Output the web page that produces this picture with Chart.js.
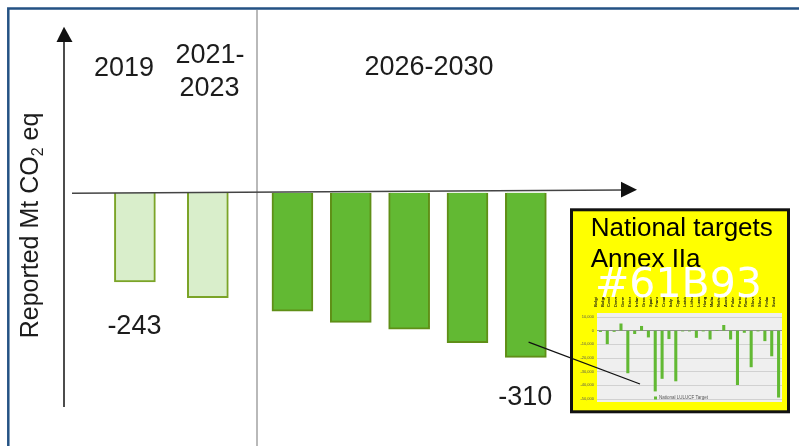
<!DOCTYPE html>
<html>
<head>
<meta charset="utf-8">
<script src="https://cdn.jsdelivr.net/npm/chart.js@4.4.1/dist/chart.umd.min.js"></script>
<style>
  html, body { margin: 0; padding: 0; background: #fff; }
  #wrap { position: relative; width: 799px; height: 446px; overflow: hidden; }
  #wrap canvas { position: absolute; }
  #mainChart { left: 0; top: 0; }
  #insetChart { left: 520px; top: 200px; }
</style>
</head>
<body>
<div id="wrap">
  <canvas id="mainChart" width="799" height="446"></canvas>
  <canvas id="insetChart" width="279" height="246"></canvas>
</div>
<script>
// EU LULUCF net removals, Mt CO2 eq
const periods = ['2019', '2021-2023', '2026', '2027', '2028', '2029', '2030'];
const periodSlots = [0, 1.25, 2.7, 3.7, 4.7, 5.7, 6.7];
const removals = [-243, -257, -269, -279, -285, -297, -310];
const reportedCount = 2;   // 2019 and 2021-2023 are reported, the rest are targets
const axisBase = -164;     // value where the horizontal axis is drawn

// national LULUCF targets for 2030, kt CO2 eq
const countries = ['Belgium', 'Bulgaria', 'Czechia', 'Denmark', 'Germany', 'Estonia', 'Ireland',
  'Greece', 'Spain', 'France', 'Croatia', 'Italy', 'Cyprus', 'Latvia', 'Lithuania', 'Luxembourg',
  'Hungary', 'Malta', 'Netherlands', 'Austria', 'Poland', 'Portugal', 'Romania', 'Slovenia',
  'Slovakia', 'Finland', 'Sweden'];
const nationalTargets = [-700, -9600, -600, 5000, -30900, -2200, 3200,
  -4700, -44200, -35000, -5900, -36800, -300, -300, -5000, -200,
  -6200, 0, 3900, -6200, -39500, -1300, -26500, -200,
  -7400, -18500, -48700];

const FONT = '"Liberation Sans", Arial, sans-serif';
const LIGHT_GREEN = '#d9eecb';
const GREEN = '#62b933';

// frame, axes with arrows and the text around the main bars
const mainDecor = {
  id: 'mainDecor',
  beforeDraw(chart) {
    const c = chart.ctx;
    c.save();
    c.fillStyle = '#fff';
    c.fillRect(0, 0, chart.width, chart.height);
    // blue slide frame
    c.strokeStyle = '#245284';
    c.lineWidth = 2.5;
    c.beginPath();
    c.moveTo(8.3, chart.height);
    c.lineTo(8.3, 8.5);
    c.lineTo(chart.width, 8.5);
    c.stroke();
    // divider between reported years and targets
    c.strokeStyle = '#8a8a8a';
    c.lineWidth = 1.2;
    c.beginPath();
    c.moveTo(257, 10);
    c.lineTo(257, chart.height);
    c.stroke();
    c.restore();
  },
  afterDatasetsDraw(chart) {
    const c = chart.ctx;
    c.save();
    // vertical axis
    c.strokeStyle = '#111';
    c.fillStyle = '#111';
    c.lineWidth = 1.5;
    c.beginPath();
    c.moveTo(64, 40);
    c.lineTo(64, 407);
    c.stroke();
    c.beginPath();
    c.moveTo(64, 26.7);
    c.lineTo(56.5, 42);
    c.lineTo(72.5, 42);
    c.closePath();
    c.fill();
    // horizontal axis
    c.strokeStyle = '#444';
    c.beginPath();
    c.moveTo(72, 193.3);
    c.lineTo(623, 190);
    c.stroke();
    c.fillStyle = '#111';
    c.beginPath();
    c.moveTo(637, 189.8);
    c.lineTo(621, 181.8);
    c.lineTo(621, 197.6);
    c.closePath();
    c.fill();
    c.restore();
  },
  afterDraw(chart) {
    const c = chart.ctx;
    c.save();
    c.fillStyle = '#1c1c1c';
    c.textAlign = 'center';
    c.textBaseline = 'alphabetic';
    c.font = '27px ' + FONT;
    c.fillText('2019', 124, 76);
    c.fillText('2021-', 210, 63.3);
    c.fillText('2023', 209.5, 96);
    c.fillText('2026-2030', 429, 75);

    // value labels under the first and last bar
    const meta = chart.getDatasetMeta(0);
    [[0, 52], [removals.length - 1, 47.5]].forEach(([i, dy]) => {
      const bar = meta.data[i];
      c.fillText(String(removals[i]), bar.x - 0.5, bar.y + dy);
    });

    // rotated axis title with subscript
    c.translate(37.5, 225.5);
    c.rotate(-Math.PI / 2);
    c.textAlign = 'left';
    const big = '25px ' + FONT, small = '16px ' + FONT;
    c.font = big;
    const w1 = c.measureText('Reported Mt CO').width;
    const w3 = c.measureText(' eq').width;
    c.font = small;
    const w2 = c.measureText('2').width;
    let x = -(w1 + w2 + w3) / 2;
    c.font = big;
    c.fillText('Reported Mt CO', x, 0);
    x += w1;
    c.font = small;
    c.fillText('2', x, 5);
    x += w2;
    c.font = big;
    c.fillText(' eq', x, 0);
    c.restore();
  }
};

new Chart(document.getElementById('mainChart').getContext('2d'), {
  type: 'bar',
  data: {
    datasets: [{
      label: 'LULUCF net removals',
      data: periods.map((p, i) => ({ x: periodSlots[i], y: removals[i] })),
      base: axisBase,
      barThickness: 41,
      backgroundColor: periods.map((p, i) => i < reportedCount ? LIGHT_GREEN : GREEN),
      borderColor: periods.map((p, i) => i < reportedCount ? '#7ba428' : '#5f8f17'),
      borderWidth: 2,
      borderSkipped: 'start'
    }]
  },
  options: {
    responsive: false,
    animation: false,
    layout: { padding: { left: 64, right: 162, top: 27, bottom: 39 } },
    plugins: { legend: { display: false }, tooltip: { enabled: false } },
    scales: {
      x: { type: 'linear', offset: false, min: -1.215, max: 8.605, display: false },
      y: { min: -354, max: -17, display: false }
    }
  },
  plugins: [mainDecor]
});

// yellow call-out box holding the per-country chart
const insetDecor = {
  id: 'insetDecor',
  beforeDraw(chart) {
    const c = chart.ctx;
    c.save();
    c.fillStyle = '#ffff00';
    c.fillRect(51.5, 9.8, 217, 202);
    c.strokeStyle = '#111';
    c.lineWidth = 3;
    c.strokeRect(51.5, 9.8, 217, 202);
    c.fillStyle = '#efefef';
    c.fillRect(77, 113, 185, 89);
    c.restore();
  },
  afterDraw(chart) {
    const c = chart.ctx;
    c.save();
    // legend
    c.fillStyle = GREEN;
    c.fillRect(134, 196.5, 3, 3);
    c.fillStyle = '#555';
    c.font = '4.5px ' + FONT;
    c.textBaseline = 'middle';
    c.fillText('National LULUCF Target', 139, 198.2);
    // pointer from the 2030 bar
    c.strokeStyle = '#111';
    c.lineWidth = 1.3;
    c.beginPath();
    c.moveTo(8.6, 142.2);
    c.lineTo(120, 184);
    c.stroke();
    // titles
    c.textBaseline = 'alphabetic';
    c.fillStyle = '#000';
    c.font = '26px ' + FONT;
    c.fillText('National targets', 70.7, 36);
    c.fillText('Annex IIa', 70.7, 66.7);
    c.fillStyle = '#fff';
    c.font = '41px "DejaVu Sans", sans-serif';
    c.fillText('#61B93', 75, 96.7);
    c.restore();
  }
};

new Chart(document.getElementById('insetChart').getContext('2d'), {
  type: 'bar',
  data: {
    labels: countries,
    datasets: [{
      label: 'National LULUCF Target',
      data: nationalTargets,
      backgroundColor: GREEN,
      barThickness: 2.4
    }]
  },
  options: {
    responsive: false,
    animation: false,
    layout: { padding: { left: 55, right: 17, top: 97, bottom: 47 } },
    plugins: { legend: { display: false }, tooltip: { enabled: false } },
    scales: {
      x: {
        position: 'top',
        grid: { display: false },
        border: { display: false },
        ticks: {
          autoSkip: false, minRotation: 90, maxRotation: 90, padding: 2,
          color: '#111', font: { size: 4, weight: 'bold', family: FONT }
        },
        afterFit(scale) { scale.height = 20; }
      },
      y: {
        min: -50000,
        max: 10000,
        ticks: { stepSize: 10000, color: '#555', padding: 3, font: { size: 4, family: FONT } },
        grid: {
          color: ctx => ctx.tick.value === 0 ? '#777' : '#c9c9c9',
          lineWidth: 0.8,
          drawTicks: false
        },
        border: { display: false },
        afterFit(scale) { scale.width = 22; }
      }
    }
  },
  plugins: [insetDecor]
});
</script>
</body>
</html>
